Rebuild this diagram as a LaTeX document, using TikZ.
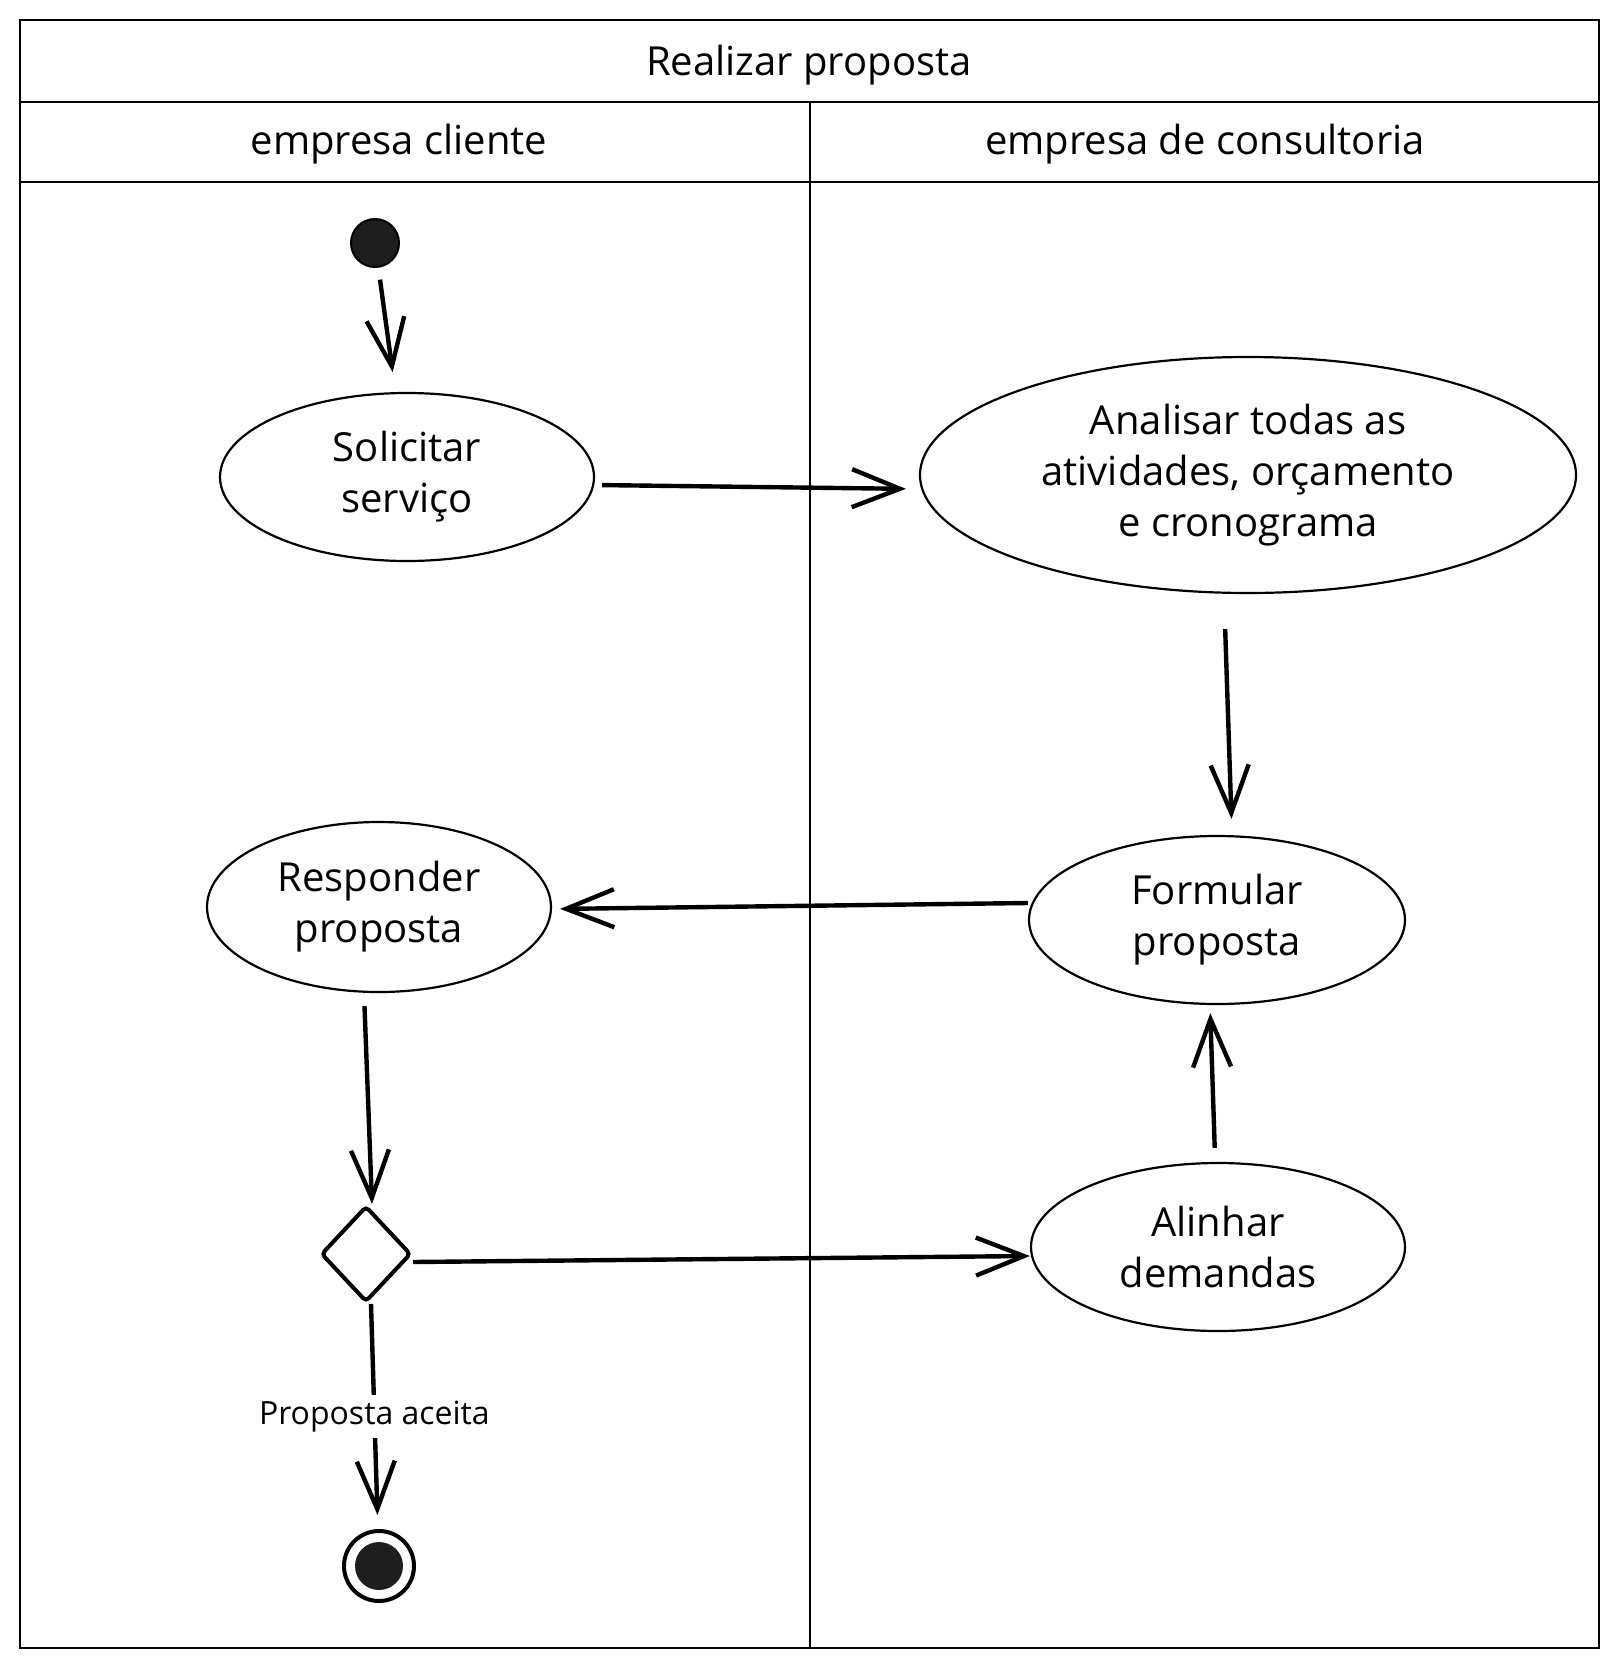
\documentclass[tikz,border=0pt]{standalone}
\usepackage{fontspec}
\setmainfont{Open Sans}
\usepackage{tikz}
\usetikzlibrary{positioning,shapes.geometric,arrows.meta}
\definecolor{inkdark}{HTML}{1E1E1E}

\begin{document}
\begin{tikzpicture}[x=0.5pt, y=-0.5pt,
    every node/.style={font=\fontsize{20}{25.5}\selectfont, align=center},
    activity/.style={ellipse, draw, line width=1.1pt, inner sep=0pt},
    decision/.style={diamond, draw, line width=2pt, rounded corners=2pt, minimum width=45pt, minimum height=48pt, inner sep=0pt},
    startnode/.style={circle, draw, fill=inkdark, line width=1pt, minimum size=24pt, inner sep=0pt},
    endnode/.style={circle, draw, line width=2pt, minimum size=35pt, inner sep=0pt},
    flow/.style={line width=2.2pt, -{Straight Barb[length=24pt, width=19pt]}},
    guard/.style={font=\fontsize{16}{20}\selectfont, fill=white, inner sep=3pt}]

    \useasboundingbox (0,0) rectangle (1620,1670);

    % Swimlanes
    \draw[line width=1.4pt] (20,20) rectangle (1599,1648);
    \draw[line width=1.4pt] (20,102) -- (1599,102);
    \draw[line width=1.4pt] (810,102) -- (810,1648);
    \draw[line width=1.2pt] (20,182) -- (1599,182);

    % Headers
    \node (titulo) at (809,65) {Realizar proposta};
    \node (cliente) at (399,144) {empresa cliente};
    \node (consultoria) at (1205,144) {empresa de consultoria};

    % Nodes
    \node[startnode] (inicio) at (375,243) {};
    \node[activity, minimum width=187pt, minimum height=84pt] (solicitar) at (407,477) {Solicitar\\serviço};
    \node[activity, minimum width=328pt, minimum height=118pt] (analisar) at (1248,475) {Analisar todas as\\atividades, orçamento\\e cronograma};
    \node[activity, minimum width=188pt, minimum height=84pt] (formular) at (1217,920) {Formular\\proposta};
    \node[activity, minimum width=172pt, minimum height=85pt] (responder) at (379,907) {Responder\\proposta};
    \node[decision] (decisao) at (366,1254) {};
    \node[activity, minimum width=187pt, minimum height=84pt] (alinhar) at (1218,1247) {Alinhar\\demandas};
    \node[endnode] (fim) at (379,1566) {};
    \fill[inkdark] (fim) circle (12pt);

    % Edges
    \draw[flow, shorten <=6pt, shorten >=10pt] (inicio) -- (solicitar);
    \draw[flow, shorten <=3.5pt, shorten >=6.5pt] ([yshift=-4pt]solicitar.east) -- ([yshift=-7pt]analisar.west);
    \draw[flow, shorten <=17.5pt, shorten >=8pt] ([xshift=-12pt]analisar.south) -- ([xshift=7.5pt]formular.north);
    \draw[flow, shorten >=4pt] ([yshift=8.5pt]formular.west) -- ([yshift=-1pt]responder.east);
    \draw[flow, shorten <=6.5pt] ([xshift=-7.5pt]responder.south) -- ([xshift=3pt]decisao.north);
    \draw[flow] ([yshift=-4pt]decisao.east) -- ([yshift=-4.5pt]alinhar.west);
    \draw[flow, shorten <=7pt, shorten >=4pt] (alinhar) -- ([xshift=-3.5pt]formular.south);
    \draw[flow, shorten >=7pt] ([xshift=2.5pt]decisao.south) -- node[guard] {Proposta aceita} (fim);
\end{tikzpicture}
\end{document}
